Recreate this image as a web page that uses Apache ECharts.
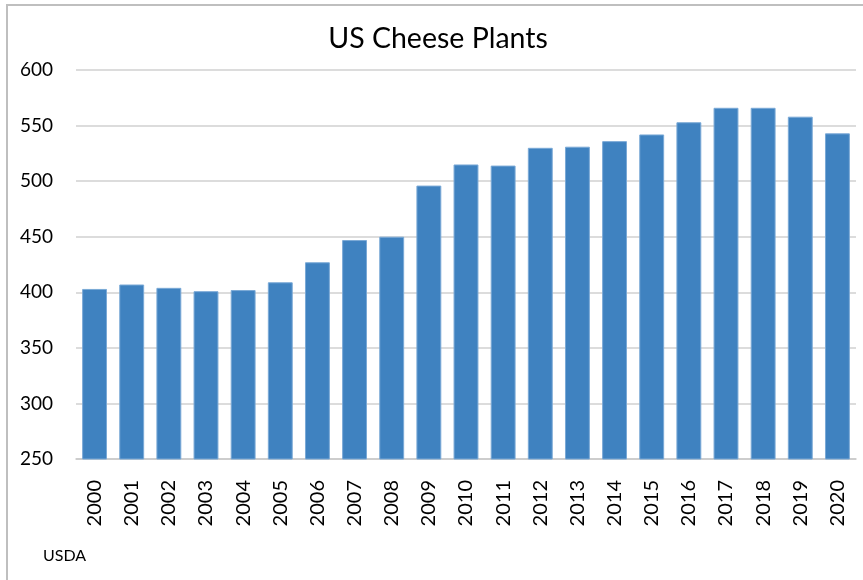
<!DOCTYPE html>
<html>
<head>
<meta charset="utf-8">
<script src="https://cdn.jsdelivr.net/npm/echarts@6/dist/echarts.min.js"></script>
<style>html,body{margin:0;padding:0;background:#fff;}#c{width:863px;height:580px;}</style>
</head>
<body>
<div id="c"></div>
<script>
const years = ['2000','2001','2002','2003','2004','2005','2006','2007','2008','2009','2010','2011','2012','2013','2014','2015','2016','2017','2018','2019','2020'];
const plants = [403,407,404,401,402,409,427,447,450,496,515,514,530,531,536,542,553,566,566,558,543];
const yMin = 250, yMax = 600, yStep = 50;

const chart = echarts.init(document.getElementById('c'), null, {renderer:'canvas'});
chart.setOption({
  animation:false,
  backgroundColor:'#fff',
  title:{text:'US Cheese Plants',left:433,top:19,textAlign:'center',textStyle:{fontFamily:'Lato',fontWeight:'normal',fontSize:28.5,color:'#000'}},
  grid:{left:76,right:7,top:70,bottom:121,containLabel:false},
  xAxis:{type:'category',data:years,
    axisLine:{lineStyle:{color:'#c8c8c8',width:1.5}},
    axisTick:{show:false},
    axisLabel:{rotate:90,margin:21,fontFamily:'Lato',fontSize:20,color:'#000',interval:0}},
  yAxis:{type:'value',min:yMin,max:yMax,interval:yStep,
    axisLine:{show:false},axisTick:{show:false},
    splitLine:{lineStyle:{color:'#d0d0d0',width:1.5}},
    axisLabel:{margin:23,fontFamily:'Lato',fontSize:19,color:'#000'}},
  series:[{type:'bar',data:plants,barWidth:'67%',
    itemStyle:{color:'#3f82c0',borderColor:'#7aa9d6',borderWidth:1}}],
  graphic:[
    {type:'rect',shape:{x:7,y:5,width:900,height:600},style:{fill:'none',stroke:'#bfbfbf',lineWidth:2},silent:true},
    {type:'text',left:43,top:548,style:{text:'USDA',fontFamily:'Lato',fontSize:16,fill:'#000'}}
  ]
});
</script>
</body>
</html>
